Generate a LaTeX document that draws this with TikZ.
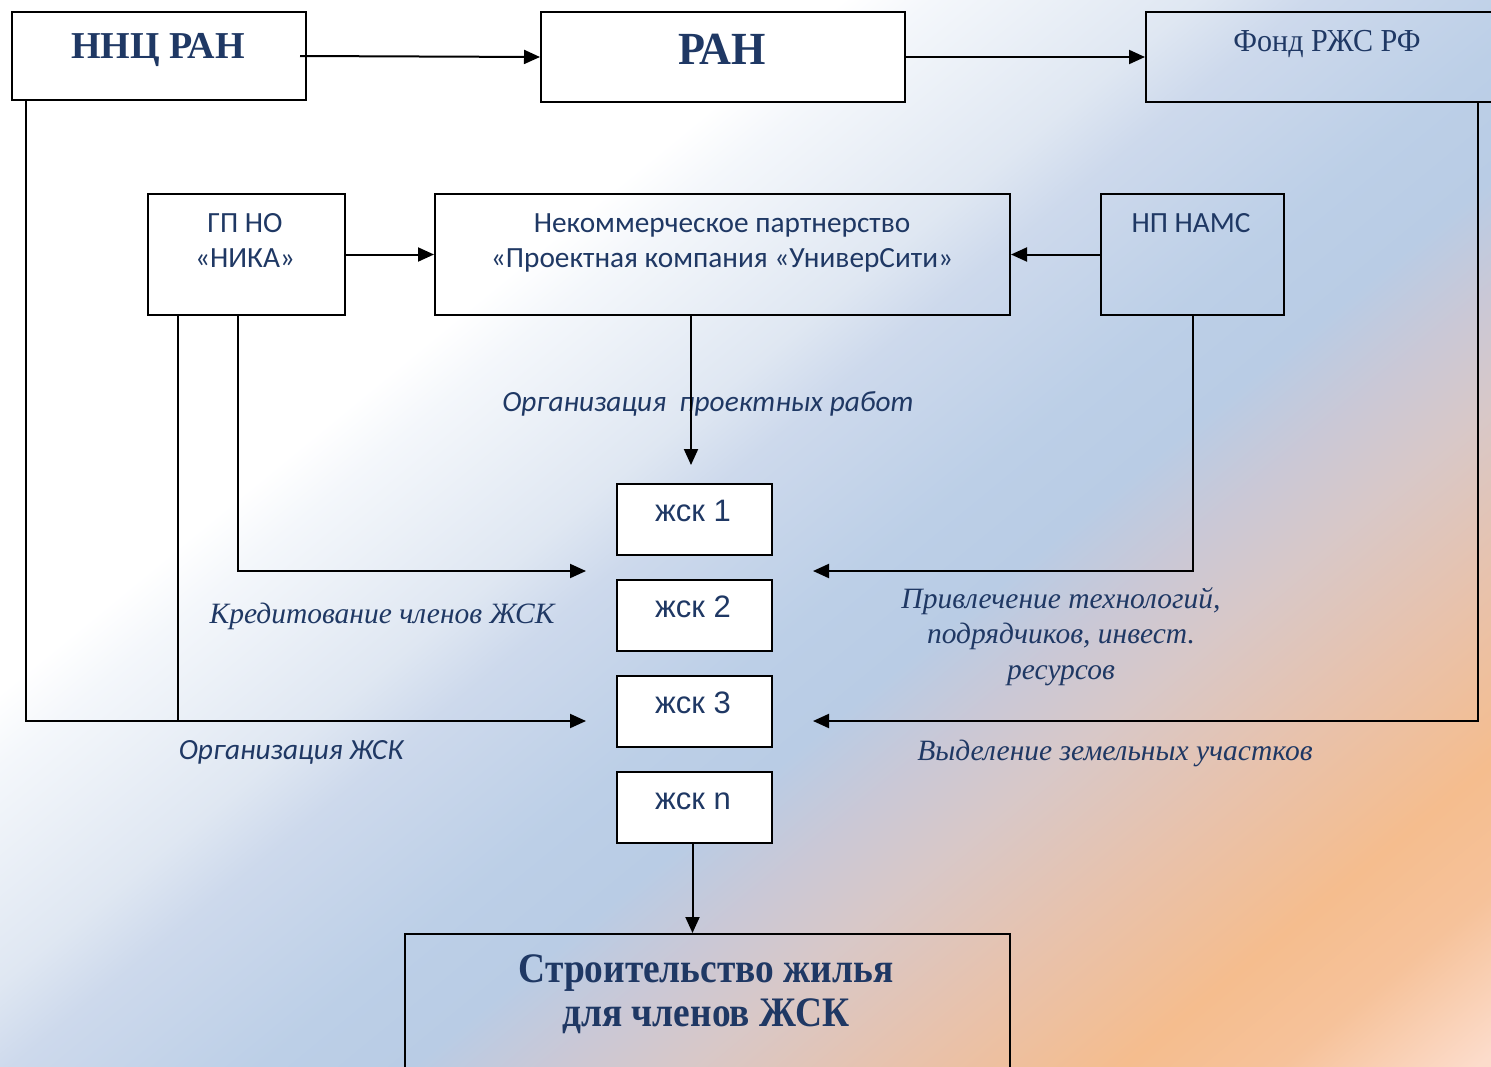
\documentclass[tikz,border=0pt]{standalone}
\usepackage{fontspec}
\setmainfont{Liberation Serif}
\newfontfamily\calibf{Carlito}
\newfontfamily\arialf{Liberation Sans}
\newfontfamily\condA[FakeStretch=0.96]{Liberation Serif}
\newfontfamily\condB[FakeStretch=0.89]{Liberation Serif}
\newfontfamily\condC[FakeStretch=0.94]{Liberation Serif}
\usetikzlibrary{arrows.meta,shadings}
\definecolor{txtblue}{RGB}{31,56,100}
\definecolor{cA}{HTML}{F4F7FB}
\definecolor{cB}{HTML}{DFE7F2}
\definecolor{cC}{HTML}{CDD9EC}
\definecolor{cD}{HTML}{BCCFE7}
\definecolor{cE}{HTML}{B9CCE5}
\definecolor{cF}{HTML}{CAC8D6}
\definecolor{cG}{HTML}{D8C8C8}
\definecolor{cH}{HTML}{E8C2AC}
\definecolor{cI}{HTML}{F5BD8E}
\definecolor{cJ}{HTML}{F6C29A}
\definecolor{cK}{HTML}{FCDCCB}
\pgfdeclarehorizontalshading{bgsh}{100bp}{color(0bp)=(white); color(36bp)=(white); color(38.3bp)=(cA); color(45bp)=(cB); color(47.85bp)=(cC); color(54.2bp)=(cD); color(58bp)=(cE); color(61.5bp)=(cF); color(65bp)=(cG); color(70.3bp)=(cH); color(76bp)=(cI); color(80bp)=(cJ); color(85bp)=(cK); color(100bp)=(cK)}
\tikzset{
  box/.style={draw=black, line width=2pt, inner sep=0pt, anchor=north west},
  tx/.style={text=txtblue, inner sep=0pt, anchor=base, align=center},
  arr/.style={draw=black, line width=2pt, -{Triangle[length=16pt,width=14pt]}},
  ln/.style={draw=black, line width=2pt}
}
\begin{document}
\begin{tikzpicture}[x=1pt,y=-1pt]
\useasboundingbox (0,0) rectangle (1491,1066);
\clip (0,0) rectangle (1491,1066);
% background
\shade[shading=bgsh, shading angle=-50.6] (0,0) rectangle (1491,1066);

% top row
\node[box, fill=white, minimum width=294, minimum height=88] (nnc) at (11,11) {};
\node[box, fill=white, minimum width=364, minimum height=90] (ran) at (540,11) {};
\node[box, minimum width=360, minimum height=90] (fond) at (1145,11) {};
\node[tx, font=\bfseries\fontsize{38}{40}\selectfont] (tnnc) at (158,58) {ННЦ РАН};
\node[tx, font=\condA\bfseries\fontsize{46}{50}\selectfont] (tran) at (722,64) {РАН};
\node[tx, font=\condC\fontsize{32}{36}\selectfont] (tfond) at (1327,51) {Фонд РЖС РФ};

% second row
\node[box, fill=white, minimum width=197, minimum height=121] (gp) at (147,193) {};
\node[box, minimum width=575, minimum height=121] (np) at (434,193) {};
\node[box, minimum width=183, minimum height=121] (nams) at (1100,193) {};
\node[tx, font=\calibf\fontsize{29.3}{35}\selectfont] (tgp) at (245,267) {ГП НО\\«НИКА»};
\node[tx, font=\calibf\fontsize{29.3}{35}\selectfont] (tnp) at (722,267) {Некоммерческое партнерство\\«Проектная компания «УниверСити»};
\node[tx, font=\calibf\fontsize{29.3}{35}\selectfont] (tnams) at (1191,232) {НП НАМС};

% ZhSK boxes
\node[box, fill=white, minimum width=155, minimum height=71] (z1) at (616,483) {};
\node[box, fill=white, minimum width=155, minimum height=71] (z2) at (616,579) {};
\node[box, fill=white, minimum width=155, minimum height=71] (z3) at (616,675) {};
\node[box, fill=white, minimum width=155, minimum height=71] (zn) at (616,771) {};
\node[tx, font=\arialf\fontsize{31}{34}\selectfont] (tz1) at (693,521) {жск 1};
\node[tx, font=\arialf\fontsize{31}{34}\selectfont] (tz2) at (693,617) {жск 2};
\node[tx, font=\arialf\fontsize{31}{34}\selectfont] (tz3) at (693,713) {жск 3};
\node[tx, font=\arialf\fontsize{31}{34}\selectfont] (tzn) at (693,809) {жск n};

% bottom box
\node[box, minimum width=605, minimum height=160] (build) at (404,933) {};
\node[tx, font=\condB\bfseries\fontsize{42}{44}\selectfont] (tbuild) at (706,1026) {Строительство жилья\\для членов ЖСК};

% labels
\node[tx, font=\calibf\itshape\fontsize{29.3}{30}\selectfont] (lorgp) at (708,411) {Организация\ \ проектных работ};
\node[tx, font=\itshape\fontsize{29.5}{35}\selectfont] (lcred) at (382,623) {Кредитование членов ЖСК};
\node[tx, font=\calibf\itshape\fontsize{29.3}{30}\selectfont] (lorgz) at (291,759) {Организация ЖСК};
\node[tx, font=\itshape\fontsize{29.5}{35.5}\selectfont] (lpriv) at (1061,679) {Привлечение технологий,\\подрядчиков, инвест.\\ресурсов};
\node[tx, font=\itshape\fontsize{29.5}{35}\selectfont] (lvyd) at (1115,760) {Выделение земельных участков};

% free ends
\coordinate (inL1) at (586,571);
\coordinate (inL3) at (586,721);
\coordinate (inR1) at (813,571);
\coordinate (inR3) at (813,721);
\coordinate (inTop) at (691,465);

% connectors
\draw[arr] ([xshift=-7pt]nnc.east) -- (ran.west);
\draw[arr] (ran.east) -- (fond.west |- ran.east);
\draw[arr] (gp.east) -- (np.west);
\draw[arr] (nams.west) -- (np.east);
\draw[arr] ([xshift=257pt]np.south west) -- (inTop);
\draw[arr] ([xshift=15pt]nnc.south west) |- (inL3);
\draw[ln] ([xshift=31pt]gp.south west) -- ([xshift=31pt]gp.south west |- inL3);
\draw[arr] ([xshift=91pt]gp.south west) |- (inL1);
\draw[arr] (nams.south) |- (inR1);
\draw[arr] ([xshift=333pt]fond.south west) |- (inR3);
\draw[arr] ([xshift=-2pt]zn.south) -- ([xshift=-2pt]zn.south |- build.north);
\end{tikzpicture}
\end{document}
